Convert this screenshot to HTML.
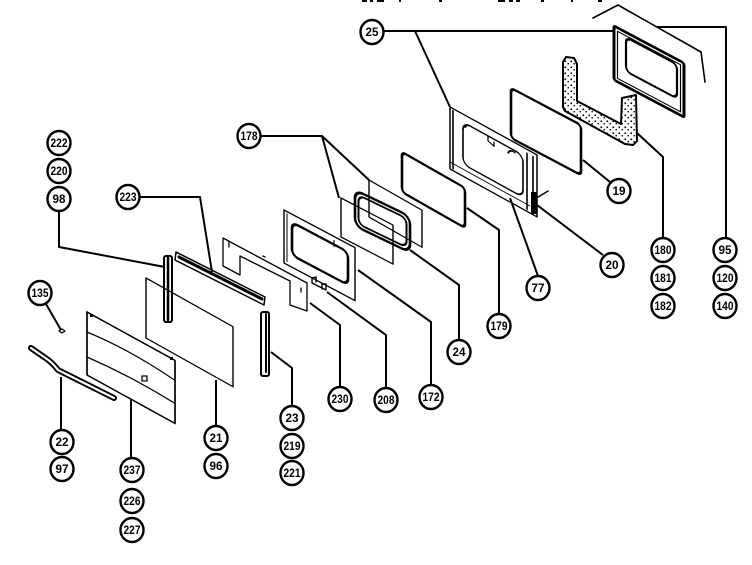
<!DOCTYPE html>
<html><head><meta charset="utf-8">
<style>html,body{margin:0;padding:0;background:#fff;}svg{display:block}
text{font-family:"Liberation Sans",sans-serif;font-weight:bold;font-size:12px;fill:#000;text-anchor:middle}</style></head>
<body>
<svg width="752" height="565" viewBox="0 0 752 565" xmlns="http://www.w3.org/2000/svg">
<defs>
<pattern id="dots" width="6" height="6" patternUnits="userSpaceOnUse"><rect x="0.5" y="0.5" width="1.6" height="1.6" fill="#000"/><rect x="3.5" y="3" width="1.4" height="1.4" fill="#000"/></pattern>
</defs>
<rect width="752" height="565" fill="#fff"/>
<!-- cut-off text marks at top -->
<g fill="#000">
<rect x="362" y="0" width="5" height="2"/><rect x="370" y="0" width="3" height="2"/><rect x="377" y="0" width="7" height="2"/>
<rect x="399" y="0" width="2" height="2"/><rect x="439" y="0" width="3" height="2"/><rect x="498" y="0" width="7" height="2"/>
<rect x="509" y="0" width="4" height="2"/><rect x="516" y="0" width="4" height="2"/><rect x="541" y="0" width="3" height="2"/>
<rect x="571" y="0" width="2" height="2"/><rect x="598" y="0" width="4" height="2"/>
</g>

<!-- leaders -->
<g fill="none" stroke="#000" stroke-width="2" stroke-linejoin="round">
<path d="M384 31 H613 M415 31 L450 107"/>
<path d="M657 27 H726 V238"/>
<path d="M663 238 V157 L637 133"/>
<path d="M583 160 L610 182"/>
<path d="M537 205 L603 255"/>
<path d="M538 276 L510 198"/>
<path d="M467 208 L499 230 V314"/>
<path d="M459 340 V285 L410 250"/>
<path d="M431 385 V322 L358 270"/>
<path d="M386 388 V335 L327 292"/>
<path d="M340 387 V325 L310 303"/>
<path d="M261 136 H322 L369 180 M322 136 L339 198"/>
<path d="M140 197 H200 L212 272"/>
<path d="M59 211 V247 L165 267"/>
<path d="M46 304 L61 330"/>
<path d="M61 430 V377"/>
<path d="M131 458 V400"/>
<path d="M216 426 V380"/>
<path d="M292 406 V368 L271 352"/>
</g>

<g fill="none" stroke="#000" stroke-width="1.6" stroke-linejoin="round" stroke-linecap="round">
<!-- bracket line top right -->
<path d="M593 18 L618 5 L701 52 L705 82"/>

<!-- frame 25 top right -->
<g transform="matrix(1,0.53,0,1,614,26)">
<rect x="0" y="0" width="70" height="54" rx="2" stroke-width="3"/>
<rect x="3.5" y="3.5" width="63" height="47" stroke-width="1.2"/>
<rect x="12" y="5" width="51" height="34" rx="5" stroke-width="2.2"/>
</g>

<!-- U-shape 180 -->
<path d="M563 62 L566 57 L574 58 L577 64 L577 101 L621 124 L622 98 L636 95 L637 141 L633 145 L625 144 L565 111 L563 107 Z" fill="url(#dots)" stroke-width="2"/>

<!-- panel 19 -->
<g transform="matrix(1,0.53,0,1,511,88)"><rect x="0" y="0" width="70" height="50" rx="4" stroke-width="2.6"/></g>

<!-- frame 20/77 -->
<g transform="matrix(1,0.55,0,1,450,107)">
<rect x="0" y="0" width="87" height="62" stroke-width="1.5"/>
<path d="M3 2 V60"/>
<rect x="13" y="8" width="60" height="42" rx="7" stroke-width="1.6"/>
<path d="M77 4 V60 M83 4 V61"/>
<path d="M15 12 q2 -5 7 -4" stroke-width="1.5"/>
<path d="M38 8 v5 l6 2 v-4" stroke-width="1.3"/>
<path d="M58 14 q2 -5 7 -4" stroke-width="1.5"/>
<path d="M0 55 L80 55" stroke-width="1"/>
</g>
<rect x="531" y="192" width="6" height="22" fill="#000" stroke="none"/>
<path d="M535 199 L548 191" stroke-width="1.5"/>

<!-- panel 179 -->
<g transform="matrix(1,0.57,0,1,402,152)"><rect x="0" y="0" width="63" height="40" rx="4" stroke-width="2.6"/></g>

<!-- 178 panels -->
<g transform="matrix(1,0.57,0,1,369,180)"><rect x="0" y="0" width="53" height="37" stroke-width="1.4"/></g>
<g transform="matrix(1,0.52,0,1,341,198)"><rect x="0" y="0" width="52" height="39" stroke-width="1.4"/></g>

<!-- gasket 24 -->
<g transform="matrix(1,0.48,0,1,355,190)">
<rect x="0" y="0" width="55" height="36" rx="8" stroke-width="2.6"/>
<rect x="3.5" y="3.5" width="48" height="29" rx="6" stroke-width="2"/>
</g>

<!-- frame 208 -->
<g transform="matrix(1,0.53,0,1,284,210)">
<rect x="0" y="0" width="71" height="53" stroke-width="1.4"/>
<path d="M3 2 V50" stroke-width="1"/>
<rect x="8" y="8" width="56" height="33" rx="6" stroke-width="2.6"/>
<path d="M50 4 v6" stroke-width="1.2"/>
</g>
<path d="M312 283 l0 -5 l4 -1 l0 5 M322 289 l0 -5 l4 0 l0 5 M312 283 L326 290" stroke-width="1.4"/>

<!-- panel 230 -->
<path d="M223 238 L307 283 L307 311 L290 305 L290 281 L240 256 L240 275 L223 266 Z" stroke-width="1.3"/>
<path d="M229 241 v6 M263 256 l2 1 M301 288 v4" stroke-width="1.3"/>

<!-- strip 98 -->
<rect x="164" y="256" width="8" height="66" rx="2" stroke-width="2"/>
<path d="M168 258 V320" stroke-width="2.5"/>

<!-- strip 223 -->
<path d="M176 252 L265 297 L264 305 L175 260 Z" stroke-width="1.5"/>
<path d="M179 257 L262 299" stroke-width="3"/>

<!-- strip 23 -->
<rect x="261" y="312" width="8" height="64" rx="2" stroke-width="2"/>
<path d="M266 314 V372" stroke-width="2"/>

<!-- door 21 -->
<g transform="matrix(1,0.56,0,1,146,278)"><rect x="0" y="0" width="87" height="60" stroke-width="1.4"/></g>

<!-- door 237 -->
<g transform="matrix(1,0.55,0,1,87,312)">
<rect x="0" y="0" width="88" height="63" stroke-width="1.7"/>
<path d="M0 20 Q44 14 88 20" stroke-width="1.4"/>
<path d="M0 45 Q44 40 88 43" stroke-width="1.4"/>
</g>
<rect x="142" y="376" width="5" height="5" stroke-width="1.3"/>
<rect x="90" y="314" width="3" height="3" fill="#000" stroke="none"/>
<rect x="170" y="357" width="3" height="3" fill="#000" stroke="none"/>

<!-- clip 135 -->
<path d="M59 331 l3 -2 l3 2 l-3 2 z" stroke-width="1.3"/>

<!-- handle 22 -->
<path d="M31 348 L44 357 Q52 362 58 370 L114 398" stroke-width="6"/>
<path d="M31 348 L44 357 Q52 362 58 370 L114 398" stroke="#fff" stroke-width="2.2"/>
</g>

<!-- balloons -->
<g fill="#fff" stroke="#000" stroke-width="2.4">
<ellipse cx="372" cy="32" rx="11.5" ry="12"/>
<ellipse cx="725" cy="250" rx="11.5" ry="12"/><ellipse cx="725" cy="278" rx="11.5" ry="12"/><ellipse cx="725" cy="306" rx="11.5" ry="12"/>
<ellipse cx="663" cy="250" rx="11.5" ry="12"/><ellipse cx="663" cy="278" rx="11.5" ry="12"/><ellipse cx="663" cy="306" rx="11.5" ry="12"/>
<ellipse cx="619" cy="191" rx="11.5" ry="12"/>
<ellipse cx="612" cy="265" rx="11.5" ry="12"/>
<ellipse cx="538" cy="288" rx="11.5" ry="12"/>
<ellipse cx="499" cy="326" rx="11.5" ry="12"/>
<ellipse cx="459" cy="352" rx="11.5" ry="12"/>
<ellipse cx="431" cy="397" rx="11.5" ry="12"/>
<ellipse cx="386" cy="400" rx="11.5" ry="12"/>
<ellipse cx="340" cy="399" rx="11.5" ry="12"/>
<ellipse cx="249" cy="136" rx="11.5" ry="12"/>
<ellipse cx="128" cy="197" rx="11.5" ry="12"/>
<ellipse cx="59" cy="143" rx="11.5" ry="12"/><ellipse cx="59" cy="171" rx="11.5" ry="12"/><ellipse cx="59" cy="199" rx="11.5" ry="12"/>
<ellipse cx="40" cy="293" rx="11.5" ry="12"/>
<ellipse cx="62" cy="442" rx="11.5" ry="12"/><ellipse cx="62" cy="469" rx="11.5" ry="12"/>
<ellipse cx="132" cy="470" rx="11.5" ry="12"/><ellipse cx="132" cy="501" rx="11.5" ry="12"/><ellipse cx="132" cy="530" rx="11.5" ry="12"/>
<ellipse cx="216" cy="438" rx="11.5" ry="12"/><ellipse cx="216" cy="466" rx="11.5" ry="12"/>
<ellipse cx="292" cy="418" rx="11.5" ry="12"/><ellipse cx="292" cy="446" rx="11.5" ry="12"/><ellipse cx="292" cy="473" rx="11.5" ry="12"/>
</g>
<g>
<text x="372" y="36" textLength="13" lengthAdjust="spacingAndGlyphs">25</text>
<text x="725" y="254" textLength="13" lengthAdjust="spacingAndGlyphs">95</text>
<text x="725" y="282" textLength="17" lengthAdjust="spacingAndGlyphs">120</text>
<text x="725" y="310" textLength="17" lengthAdjust="spacingAndGlyphs">140</text>
<text x="663" y="254" textLength="17" lengthAdjust="spacingAndGlyphs">180</text>
<text x="663" y="282" textLength="17" lengthAdjust="spacingAndGlyphs">181</text>
<text x="663" y="310" textLength="17" lengthAdjust="spacingAndGlyphs">182</text>
<text x="619" y="195" textLength="13" lengthAdjust="spacingAndGlyphs">19</text>
<text x="612" y="269" textLength="13" lengthAdjust="spacingAndGlyphs">20</text>
<text x="538" y="292" textLength="13" lengthAdjust="spacingAndGlyphs">77</text>
<text x="499" y="330" textLength="17" lengthAdjust="spacingAndGlyphs">179</text>
<text x="459" y="356" textLength="13" lengthAdjust="spacingAndGlyphs">24</text>
<text x="431" y="401" textLength="17" lengthAdjust="spacingAndGlyphs">172</text>
<text x="386" y="404" textLength="17" lengthAdjust="spacingAndGlyphs">208</text>
<text x="340" y="403" textLength="17" lengthAdjust="spacingAndGlyphs">230</text>
<text x="249" y="140" textLength="17" lengthAdjust="spacingAndGlyphs">178</text>
<text x="128" y="201" textLength="17" lengthAdjust="spacingAndGlyphs">223</text>
<text x="59" y="147" textLength="17" lengthAdjust="spacingAndGlyphs">222</text>
<text x="59" y="175" textLength="17" lengthAdjust="spacingAndGlyphs">220</text>
<text x="59" y="203" textLength="13" lengthAdjust="spacingAndGlyphs">98</text>
<text x="40" y="297" textLength="17" lengthAdjust="spacingAndGlyphs">135</text>
<text x="62" y="446" textLength="13" lengthAdjust="spacingAndGlyphs">22</text>
<text x="62" y="473" textLength="13" lengthAdjust="spacingAndGlyphs">97</text>
<text x="132" y="474" textLength="17" lengthAdjust="spacingAndGlyphs">237</text>
<text x="132" y="505" textLength="17" lengthAdjust="spacingAndGlyphs">226</text>
<text x="132" y="534" textLength="17" lengthAdjust="spacingAndGlyphs">227</text>
<text x="216" y="442" textLength="13" lengthAdjust="spacingAndGlyphs">21</text>
<text x="216" y="470" textLength="13" lengthAdjust="spacingAndGlyphs">96</text>
<text x="292" y="422" textLength="13" lengthAdjust="spacingAndGlyphs">23</text>
<text x="292" y="450" textLength="17" lengthAdjust="spacingAndGlyphs">219</text>
<text x="292" y="477" textLength="17" lengthAdjust="spacingAndGlyphs">221</text>
</g>
</svg>
</body></html>
